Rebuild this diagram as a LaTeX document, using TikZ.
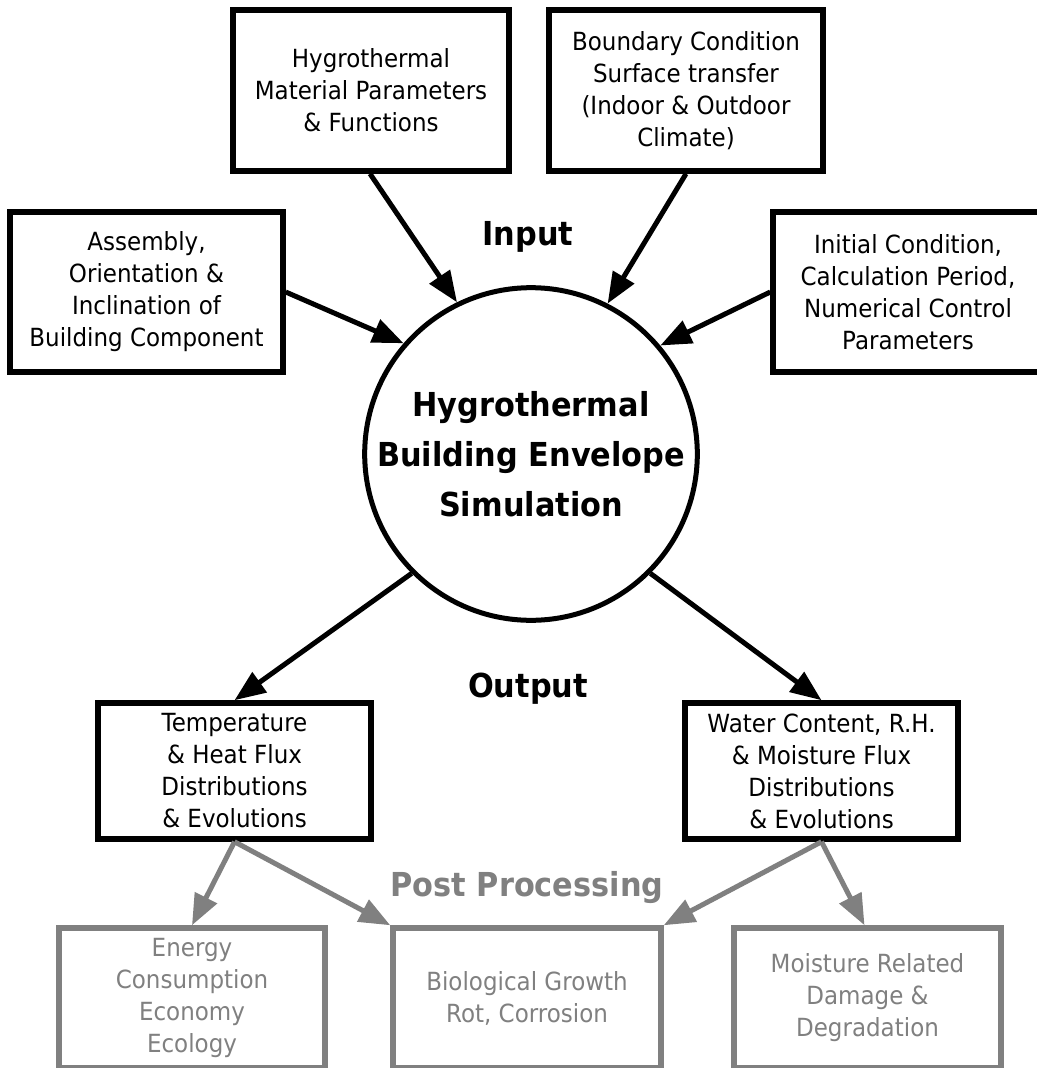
\documentclass[tikz,border=0pt]{standalone}
\usepackage{fontspec}
\setmainfont{DejaVu Sans}[FakeStretch=0.92]
\usetikzlibrary{arrows.meta}
\definecolor{pgray}{RGB}{128,128,128}
\tikzset{
  box/.style={draw, line width=5.5pt, rectangle, align=center, inner sep=0pt,
    font=\fontsize{25}{32}\selectfont},
  graybox/.style={box, draw=pgray, text=pgray},
  arr/.style={line width=5pt, -{Triangle[length=31pt,width=24pt]}},
  grayarr/.style={arr, draw=pgray, fill=pgray},
  biglabel/.style={font=\bfseries\fontsize{33}{50}\selectfont, anchor=base, inner sep=0pt}
}
\begin{document}
\begin{tikzpicture}[x=1pt,y=-1pt]
\useasboundingbox (0,0) rectangle (1036,1068);
\fill[white] (0,0) rectangle (1036,1068);

\node[box, minimum width=276pt, minimum height=161pt] (mat) at (371,90.5)
  {Hygrothermal\\Material Parameters\\\& Functions};
\node[box, minimum width=274pt, minimum height=161pt] (bnd) at (686,90.5)
  {Boundary Condition\\Surface transfer\\(Indoor \& Outdoor\\Climate)};
\node[box, minimum width=273pt, minimum height=160pt] (asm) at (146.5,292)
  {Assembly,\\Orientation \&\\Inclination of\\Building Component};
\node[box, minimum width=270pt, minimum height=160pt] (ini) at (908,292)
  {Initial Condition,\\Calculation Period,\\Numerical Control\\Parameters};

\node[draw, circle, line width=5pt, minimum size=326pt, inner sep=0pt, align=center,
  font=\bfseries\fontsize{33}{50}\selectfont] (circ) at (531,454)
  {Hygrothermal\\Building Envelope\\Simulation};

\node[biglabel] (inp) at (528,245) {Input};
\node[biglabel] (outp) at (528,697) {Output};
\node[biglabel, text=pgray] (post) at (527,896) {Post Processing};

\node[box, minimum width=273pt, minimum height=136pt] (tmp) at (234.5,771)
  {Temperature\\\& Heat Flux\\Distributions\\\& Evolutions};
\node[box, minimum width=273pt, minimum height=136pt] (wat) at (821.5,771)
  {Water Content, R.H.\\\& Moisture Flux\\Distributions\\\& Evolutions};

\node[graybox, minimum width=266pt, minimum height=140pt] (ene) at (192,998)
  {Energy\\Consumption\\Economy\\Ecology};
\node[graybox, minimum width=268pt, minimum height=140pt] (bio) at (527,998)
  {Biological Growth\\Rot, Corrosion};
\node[graybox, minimum width=267pt, minimum height=140pt] (moi) at (867.5,998)
  {Moisture Related\\Damage \&\\Degradation};

\draw[arr] ([xshift=-1pt]mat.south) -- (circ.116);
\draw[arr] (bnd.south) -- (circ.63);
\draw[arr] (asm.east) -- (circ.139);
\draw[arr] (ini.west) -- (circ.40);
\draw[arr] (circ.225) -- (tmp.north);
\draw[arr] (circ.-45) -- (wat.north);

\draw[grayarr] (tmp.south) -- (ene.north);
\draw[grayarr] (tmp.south) -- (bio.north west);
\draw[grayarr] (wat.south) -- (bio.north east);
\draw[grayarr] (wat.south) -- ([xshift=-3pt]moi.north);
\end{tikzpicture}
\end{document}
